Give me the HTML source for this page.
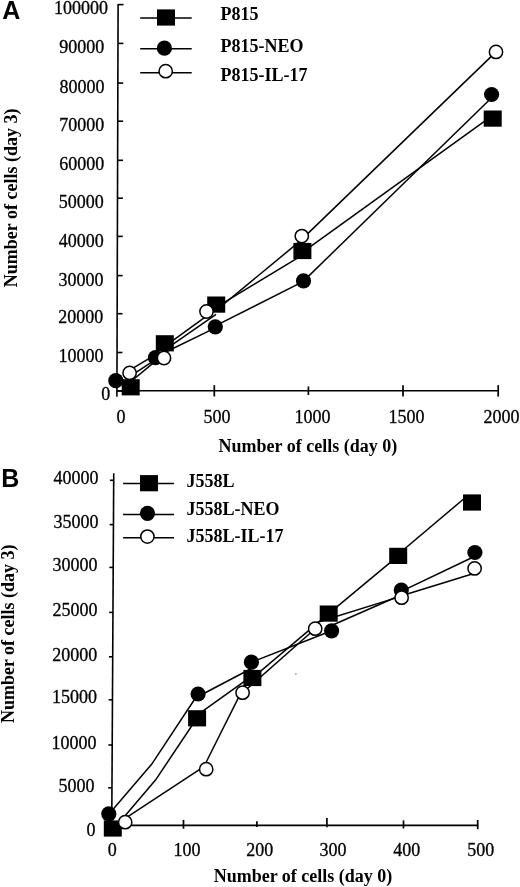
<!DOCTYPE html>
<html><head><meta charset="utf-8"><title>Cell proliferation</title>
<style>
html,body{margin:0;padding:0;background:#fff;width:520px;height:887px;overflow:hidden}
svg{display:block;will-change:transform}
.tk{font-family:"Liberation Serif",serif;font-size:18px;fill:#000;stroke:#000;stroke-width:0.3px}
.tt{font-family:"Liberation Serif",serif;font-size:18px;font-weight:bold;fill:#000}
.lg{font-family:"Liberation Serif",serif;font-size:18px;font-weight:bold;fill:#000}
.pl{font-family:"Liberation Sans",sans-serif;font-size:25px;font-weight:bold;fill:#000}
</style></head><body>
<svg width="520" height="887" viewBox="0 0 520 887">
<text x="2.2" y="18.8" class="pl">A</text>
<line x1="118.10" y1="3.9" x2="116.90" y2="396.8" stroke="#000" stroke-width="1.6"/>
<line x1="118.10" y1="4.6" x2="123.50" y2="4.6" stroke="#000" stroke-width="1.6"/>
<line x1="117.98" y1="43.4" x2="123.38" y2="43.4" stroke="#000" stroke-width="1.6"/>
<line x1="117.86" y1="83.1" x2="123.26" y2="83.1" stroke="#000" stroke-width="1.6"/>
<line x1="117.74" y1="121.2" x2="123.14" y2="121.2" stroke="#000" stroke-width="1.6"/>
<line x1="117.62" y1="160.3" x2="123.02" y2="160.3" stroke="#000" stroke-width="1.6"/>
<line x1="117.51" y1="198.2" x2="122.91" y2="198.2" stroke="#000" stroke-width="1.6"/>
<line x1="117.39" y1="236.4" x2="122.79" y2="236.4" stroke="#000" stroke-width="1.6"/>
<line x1="117.27" y1="275.6" x2="122.67" y2="275.6" stroke="#000" stroke-width="1.6"/>
<line x1="117.15" y1="313.7" x2="122.55" y2="313.7" stroke="#000" stroke-width="1.6"/>
<line x1="117.03" y1="352.5" x2="122.43" y2="352.5" stroke="#000" stroke-width="1.6"/>
<line x1="116.92" y1="391.0" x2="122.32" y2="391.0" stroke="#000" stroke-width="1.6"/>
<line x1="117.2" y1="390.8" x2="498.6" y2="390.8" stroke="#000" stroke-width="1.6"/>
<line x1="214.3" y1="385.2" x2="214.3" y2="396.5" stroke="#000" stroke-width="1.7"/>
<line x1="308.4" y1="386.5" x2="308.4" y2="395.0" stroke="#000" stroke-width="1.7"/>
<line x1="403.0" y1="385.2" x2="403.0" y2="396.6" stroke="#000" stroke-width="1.7"/>
<line x1="498.2" y1="385.2" x2="498.2" y2="396.6" stroke="#000" stroke-width="1.7"/>
<text x="54.0" y="14.1" class="tk">100000</text>
<text x="59.2" y="53.4" class="tk">90000</text>
<text x="59.4" y="93.0" class="tk">80000</text>
<text x="59.2" y="131.2" class="tk">70000</text>
<text x="59.2" y="170.0" class="tk">60000</text>
<text x="58.8" y="208.3" class="tk">50000</text>
<text x="58.8" y="246.5" class="tk">40000</text>
<text x="58.4" y="285.9" class="tk">30000</text>
<text x="58.3" y="323.2" class="tk">20000</text>
<text x="58.4" y="362.4" class="tk">10000</text>
<text x="101.2" y="400.0" class="tk">0</text>
<text x="116.5" y="422.6" class="tk">0</text>
<text x="203.6" y="422.6" class="tk">500</text>
<text x="294.6" y="422.6" class="tk">1000</text>
<text x="388.4" y="422.6" class="tk">1500</text>
<text x="483.4" y="422.6" class="tk">2000</text>
<text x="218.5" y="452.3" class="tt">Number of cells (day 0)</text>
<text x="0" y="0" class="tt" transform="translate(17.2,287.2) rotate(-90)">Number of cells (day 3)</text>
<line x1="140.2" y1="17.9" x2="191.7" y2="17.9" stroke="#000" stroke-width="1.5"/>
<line x1="140.2" y1="48.8" x2="191.7" y2="48.8" stroke="#000" stroke-width="1.5"/>
<line x1="140.2" y1="72.7" x2="191.7" y2="72.7" stroke="#000" stroke-width="1.5"/>
<rect x="157.00" y="9.40" width="18" height="16.2" fill="#000"/>
<circle cx="164.4" cy="48.2" r="7.6" fill="#000"/>
<circle cx="165.7" cy="71.2" r="6.65" fill="#fff" stroke="#000" stroke-width="1.5"/>
<text x="220.6" y="20" class="lg">P815</text>
<text x="220.6" y="51.9" class="lg">P815-NEO</text>
<text x="220.6" y="81" class="lg">P815-IL-17</text>
<polyline fill="none" stroke="#000" stroke-width="1.5" points="129.6,370.1 152.0,356.8"/>
<polyline fill="none" stroke="#000" stroke-width="1.5" points="129.6,376.6 155.5,359.7"/>
<polyline fill="none" stroke="#000" stroke-width="1.5" points="131.0,381.5 157.0,359.9"/>
<polyline fill="none" stroke="#000" stroke-width="1.5" points="164.8,346.3 206.5,316.1"/>
<polyline fill="none" stroke="#000" stroke-width="1.5" points="164.8,349.9 216.0,314.3"/>
<polyline fill="none" stroke="#000" stroke-width="1.5" points="155.5,357.0 215.3,327.9"/>
<polyline fill="none" stroke="#000" stroke-width="1.5" points="216.0,310.5 301.8,239.7"/>
<polyline fill="none" stroke="#000" stroke-width="1.5" points="216.0,307.4 302.4,255.1"/>
<polyline fill="none" stroke="#000" stroke-width="1.5" points="215.3,325.8 303.5,281.4"/>
<polyline fill="none" stroke="#000" stroke-width="1.5" points="301.8,239.4 496.0,51.9"/>
<polyline fill="none" stroke="#000" stroke-width="1.5" points="302.4,252.3 492.7,115.3"/>
<polyline fill="none" stroke="#000" stroke-width="1.5" points="303.5,281.1 491.6,97.7"/>
<rect x="121.70" y="379.20" width="18" height="16.2" fill="#000"/>
<rect x="155.80" y="335.20" width="18" height="16.2" fill="#000"/>
<rect x="207.20" y="296.50" width="18" height="16.2" fill="#000"/>
<rect x="293.40" y="242.90" width="18" height="16.2" fill="#000"/>
<rect x="483.70" y="110.50" width="18" height="16.2" fill="#000"/>
<circle cx="115.8" cy="380.7" r="7.6" fill="#000"/>
<circle cx="155.5" cy="357.7" r="7.6" fill="#000"/>
<circle cx="215.3" cy="326.8" r="7.6" fill="#000"/>
<circle cx="303.5" cy="280.8" r="7.6" fill="#000"/>
<circle cx="491.6" cy="94.5" r="7.6" fill="#000"/>
<circle cx="129.6" cy="372.9" r="6.65" fill="#fff" stroke="#000" stroke-width="1.5"/>
<circle cx="164.0" cy="358.0" r="6.65" fill="#fff" stroke="#000" stroke-width="1.5"/>
<circle cx="206.5" cy="311.5" r="6.65" fill="#fff" stroke="#000" stroke-width="1.5"/>
<circle cx="301.8" cy="236.1" r="6.65" fill="#fff" stroke="#000" stroke-width="1.5"/>
<circle cx="496.0" cy="51.9" r="6.65" fill="#fff" stroke="#000" stroke-width="1.5"/>
<text x="1.3" y="487.1" class="pl">B</text>
<line x1="113.74" y1="473.3" x2="111.70" y2="834" stroke="#000" stroke-width="1.6"/>
<line x1="109.90" y1="480.3" x2="113.70" y2="480.3" stroke="#000" stroke-width="1.6"/>
<line x1="109.65" y1="524.6" x2="113.45" y2="524.6" stroke="#000" stroke-width="1.6"/>
<line x1="109.41" y1="567.4" x2="113.21" y2="567.4" stroke="#000" stroke-width="1.6"/>
<line x1="109.15" y1="612.4" x2="112.95" y2="612.4" stroke="#000" stroke-width="1.6"/>
<line x1="108.90" y1="656.8" x2="112.70" y2="656.8" stroke="#000" stroke-width="1.6"/>
<line x1="108.66" y1="699.8" x2="112.46" y2="699.8" stroke="#000" stroke-width="1.6"/>
<line x1="108.40" y1="745.0" x2="112.20" y2="745.0" stroke="#000" stroke-width="1.6"/>
<line x1="108.16" y1="787.8" x2="111.96" y2="787.8" stroke="#000" stroke-width="1.6"/>
<line x1="107.90" y1="832.5" x2="111.70" y2="832.5" stroke="#000" stroke-width="1.6"/>
<line x1="111.75" y1="825.4" x2="478.2" y2="825.4" stroke="#000" stroke-width="1.6"/>
<line x1="183.5" y1="819.9" x2="183.5" y2="828.7" stroke="#000" stroke-width="1.7"/>
<line x1="256.9" y1="821.2" x2="256.9" y2="826.9" stroke="#000" stroke-width="1.7"/>
<line x1="326.9" y1="818.1" x2="326.9" y2="827.3" stroke="#000" stroke-width="1.7"/>
<line x1="403.5" y1="820.4" x2="403.5" y2="828.5" stroke="#000" stroke-width="1.7"/>
<line x1="477.7" y1="820.0" x2="477.7" y2="829.2" stroke="#000" stroke-width="1.7"/>
<text x="98.5" y="483.8" class="tk" text-anchor="end">40000</text>
<text x="98.5" y="528.0" class="tk" text-anchor="end">35000</text>
<text x="97.5" y="571.0" class="tk" text-anchor="end">30000</text>
<text x="97.5" y="616.2" class="tk" text-anchor="end">25000</text>
<text x="97.3" y="660.6" class="tk" text-anchor="end">20000</text>
<text x="97.0" y="703.4" class="tk" text-anchor="end">15000</text>
<text x="96.6" y="748.5" class="tk" text-anchor="end">10000</text>
<text x="94.6" y="791.6" class="tk" text-anchor="end">5000</text>
<text x="95.4" y="836.0" class="tk" text-anchor="end">0</text>
<text x="107.8" y="856.4" class="tk">0</text>
<text x="173.4" y="856.4" class="tk">100</text>
<text x="246.3" y="856.4" class="tk">200</text>
<text x="319.6" y="856.4" class="tk">300</text>
<text x="393.2" y="856.4" class="tk">400</text>
<text x="467.2" y="856.4" class="tk">500</text>
<text x="213.7" y="882.2" class="tt">Number of cells (day 0)</text>
<text x="0" y="0" class="tt" transform="translate(14.4,723.1) rotate(-90)">Number of cells (day 3)</text>
<line x1="123.1" y1="483.6" x2="174" y2="483.6" stroke="#000" stroke-width="1.5"/>
<line x1="123.1" y1="514.5" x2="174" y2="514.5" stroke="#000" stroke-width="1.5"/>
<line x1="123.1" y1="537.8" x2="174" y2="537.8" stroke="#000" stroke-width="1.5"/>
<rect x="140.00" y="475.10" width="18" height="16.2" fill="#000"/>
<circle cx="147.5" cy="513.3" r="7.6" fill="#000"/>
<circle cx="147.4" cy="536.6" r="6.65" fill="#fff" stroke="#000" stroke-width="1.5"/>
<text x="186.5" y="486.6" class="lg">J558L</text>
<text x="186.5" y="514.6" class="lg">J558L-NEO</text>
<text x="186.5" y="542" class="lg">J558L-IL-17</text>
<circle cx="295.8" cy="673.9" r="1.1" fill="#bbb"/>
<polyline fill="none" stroke="#000" stroke-width="1.5" points="108.6,814.5 151.6,764.3 198.1,694.0"/>
<polyline fill="none" stroke="#000" stroke-width="1.5" points="112.8,830.3 155.7,779.8 195.0,721.0"/>
<polyline fill="none" stroke="#000" stroke-width="1.5" points="125.2,818.3 206.2,765.2"/>
<polyline fill="none" stroke="#000" stroke-width="1.5" points="198.1,696.5 251.4,668.5"/>
<polyline fill="none" stroke="#000" stroke-width="1.5" points="197.1,715.2 252.4,675.7"/>
<polyline fill="none" stroke="#000" stroke-width="1.5" points="206.0,762.5 242.6,689.3"/>
<polyline fill="none" stroke="#000" stroke-width="1.5" points="251.4,662.2 331.6,630.8"/>
<polyline fill="none" stroke="#000" stroke-width="1.5" points="252.4,678.0 328.7,613.6"/>
<polyline fill="none" stroke="#000" stroke-width="1.5" points="242.6,692.7 315.2,628.7"/>
<polyline fill="none" stroke="#000" stroke-width="1.5" points="328.7,613.6 398.2,555.9"/>
<polyline fill="none" stroke="#000" stroke-width="1.5" points="315.2,623.0 401.6,596.1"/>
<polyline fill="none" stroke="#000" stroke-width="1.5" points="331.6,625.5 401.6,594.7"/>
<polyline fill="none" stroke="#000" stroke-width="1.5" points="398.2,554.2 466.0,497.0"/>
<polyline fill="none" stroke="#000" stroke-width="1.5" points="401.3,591.4 474.9,556.2"/>
<polyline fill="none" stroke="#000" stroke-width="1.5" points="401.6,595.8 474.6,573.2"/>
<rect x="103.80" y="820.40" width="18" height="16.2" fill="#000"/>
<rect x="188.10" y="710.20" width="18" height="16.2" fill="#000"/>
<rect x="243.40" y="669.90" width="18" height="16.2" fill="#000"/>
<rect x="319.70" y="605.50" width="18" height="16.2" fill="#000"/>
<rect x="389.20" y="547.80" width="18" height="16.2" fill="#000"/>
<rect x="463.00" y="494.40" width="18" height="16.2" fill="#000"/>
<circle cx="108.8" cy="813.8" r="7.6" fill="#000"/>
<circle cx="198.1" cy="694.0" r="7.6" fill="#000"/>
<circle cx="251.4" cy="662.2" r="7.6" fill="#000"/>
<circle cx="331.6" cy="630.8" r="7.6" fill="#000"/>
<circle cx="401.3" cy="590.1" r="7.6" fill="#000"/>
<circle cx="474.9" cy="552.5" r="7.6" fill="#000"/>
<circle cx="125.2" cy="822.2" r="6.65" fill="#fff" stroke="#000" stroke-width="1.5"/>
<circle cx="206.2" cy="769.2" r="6.65" fill="#fff" stroke="#000" stroke-width="1.5"/>
<circle cx="242.6" cy="692.7" r="6.65" fill="#fff" stroke="#000" stroke-width="1.5"/>
<circle cx="315.2" cy="628.7" r="6.65" fill="#fff" stroke="#000" stroke-width="1.5"/>
<circle cx="401.6" cy="597.7" r="6.65" fill="#fff" stroke="#000" stroke-width="1.5"/>
<circle cx="474.6" cy="568.4" r="6.65" fill="#fff" stroke="#000" stroke-width="1.5"/>
</svg>
</body></html>
